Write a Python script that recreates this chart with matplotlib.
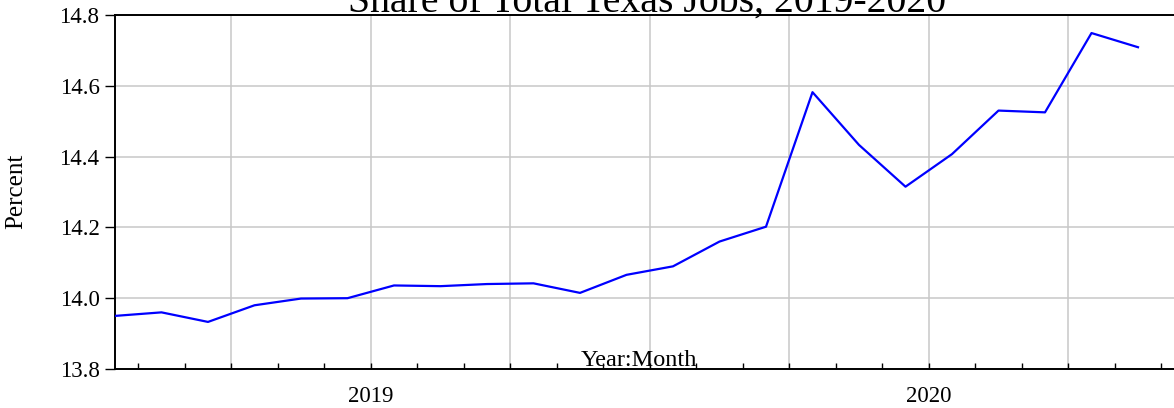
import matplotlib
matplotlib.use("Agg")
import matplotlib.pyplot as plt
import numpy as np

# Data: monthly share of total Texas jobs, Jan 2019 - Nov 2020
months = ["2019-01", "2019-02", "2019-03", "2019-04", "2019-05", "2019-06",
          "2019-07", "2019-08", "2019-09", "2019-10", "2019-11", "2019-12",
          "2020-01", "2020-02", "2020-03", "2020-04", "2020-05", "2020-06",
          "2020-07", "2020-08", "2020-09", "2020-10", "2020-11"]
percent = [13.950, 13.960, 13.933, 13.980, 13.999, 14.000,
           14.036, 14.034, 14.040, 14.042, 14.015, 14.066,
           14.090, 14.160, 14.202, 14.582, 14.433, 14.315,
           14.407, 14.530, 14.525, 14.749, 14.709]
year_labels = ["2019", "2020"]
y_ticks = [13.8, 14.0, 14.2, 14.4, 14.6, 14.8]

plt.rcParams['font.family'] = ['Liberation Serif', 'DejaVu Serif']

W, H = 1174, 408
fig = plt.figure(figsize=(W / 100, H / 100), dpi=100)

left_px, right_px, top_px, bot_px = 115, 1184.5, 15, 369
ax = fig.add_axes([left_px / W, 1 - bot_px / H,
                   (right_px - left_px) / W, (bot_px - top_px) / H])

x = np.arange(len(percent))
ax.plot(x, percent, color='#0000ff', lw=1.6, zorder=3)

ax.set_xlim(0, 23)
ax.set_ylim(13.8, 14.8)

# y axis
ax.set_yticks(y_ticks)
ax.set_yticklabels([f"{v:.1f}" for v in y_ticks], fontsize=16.5)
ax.tick_params(axis='y', direction='out', length=7.2, width=1.0, pad=4)

# x axis: quarter gridlines, month ticks, year labels at mid-year
quarter_pos = np.arange(2.5, 23, 3)
ax.set_xticks(quarter_pos)
labels = []
for q in quarter_pos:
    if abs(q - 5.5) < 1e-6:
        labels.append(year_labels[0])
    elif abs(q - 17.5) < 1e-6:
        labels.append(year_labels[1])
    else:
        labels.append("")
ax.set_xticklabels(labels, fontsize=16.5)
ax.set_xticks(np.arange(0.5, 23, 1), minor=True)
ax.tick_params(axis='x', which='both', direction='in', length=4.3, width=1.0, pad=12)

ax.grid(True, which='major', color='#c8c8c8', lw=1.1, zorder=0)

for s in ['left', 'bottom', 'top', 'right']:
    ax.spines[s].set_linewidth(1.4)
    ax.spines[s].set_color('black')

fig.text(16.5 / W, 1 - 191.5 / H, "Percent", rotation=90, ha='center',
         va='center', fontsize=18)
fig.text(638.5 / W, 1 - 366 / H, "Year:Month", ha='center', va='baseline',
         fontsize=17.5)
fig.text(647 / W, 1 - 12 / H, "Share of Total Texas Jobs, 2019-2020",
         ha='center', va='baseline', fontsize=28.6)

fig.savefig("out.png", dpi=100)
